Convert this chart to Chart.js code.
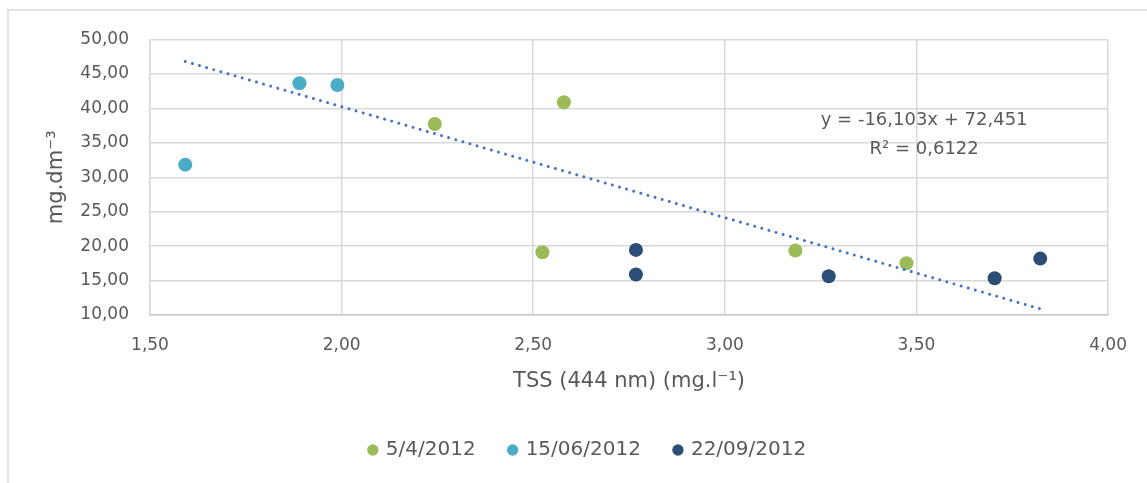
<!DOCTYPE html>
<html>
<head>
<meta charset="utf-8">
<script src="https://cdn.jsdelivr.net/npm/chart.js@4/dist/chart.umd.min.js"></script>
<style>
  html, body { margin: 0; padding: 0; background: #ffffff; overflow: hidden; }
  #wrap { width: 1147px; height: 483px; position: relative; overflow: hidden; }
  #chart { display: block; }
</style>
</head>
<body>
<div id="wrap"><canvas id="chart" width="1147" height="483"></canvas></div>
<script>
// Sampling campaigns
const campaigns = ['5/4/2012', '15/06/2012', '22/09/2012'];
const campaignColors = ['#9BBB59', '#4BACC6', '#2C4D75'];

// TSS (444 nm) in mg/l, concentration in mg/dm3, one pair of arrays per campaign
const tss_0504 = [2.243, 2.580, 2.524, 3.184, 3.474];
const conc_0504 = [37.74, 40.88, 19.11, 19.35, 17.52];

const tss_1506 = [1.592, 1.890, 1.989];
const conc_1506 = [31.83, 43.64, 43.40];

const tss_2209 = [2.768, 2.768, 3.271, 3.704, 3.823];
const conc_2209 = [19.45, 15.87, 15.63, 15.34, 18.19];

// Linear trend over all campaigns
const trendSlope = -16.103;
const trendIntercept = 72.451;
const trendR2 = 0.6122;

// Axis ticks
const xTicks = [1.5, 2.0, 2.5, 3.0, 3.5, 4.0];
const yTicks = [10, 15, 20, 25, 30, 35, 40, 45, 50];

const textColor = '#595959';
const gridColor = '#D9D9D9';
const fontFamily = '"DejaVu Sans", sans-serif';

const fmt = (v, d) => v.toFixed(d).replace('.', ',');

function pairs(xs, ys) {
  return xs.map((x, i) => ({ x: x, y: ys[i] }));
}

const allX = [].concat(tss_0504, tss_1506, tss_2209);
const xLo = Math.min.apply(null, allX);
const xHi = Math.max.apply(null, allX);
const trendPoints = [xLo, xHi].map(x => ({ x: x, y: trendSlope * x + trendIntercept }));

const seriesX = [tss_0504, tss_1506, tss_2209];
const seriesY = [conc_0504, conc_1506, conc_2209];

const scatterSets = campaigns.map((name, i) => ({
  type: 'scatter',
  label: name,
  data: pairs(seriesX[i], seriesY[i]),
  backgroundColor: campaignColors[i],
  borderColor: campaignColors[i],
  borderWidth: 0,
  pointRadius: 7,
  pointHoverRadius: 7,
  pointStyle: 'circle',
  order: 1
}));

const trendSet = {
  type: 'line',
  label: 'trend',
  data: trendPoints,
  borderColor: '#4472C4',
  borderWidth: 3,
  borderCapStyle: 'round',
  borderDash: [0.01, 7.4],
  pointRadius: 0,
  fill: false,
  tension: 0,
  order: 0
};

// Light frame along the top and left edge of the chart
const framePlugin = {
  id: 'frame',
  beforeDraw(chart) {
    const ctx = chart.ctx;
    ctx.save();
    ctx.strokeStyle = gridColor;
    ctx.lineWidth = 1.5;
    ctx.beginPath();
    ctx.moveTo(8, 483);
    ctx.lineTo(8, 10);
    ctx.lineTo(1147, 10);
    ctx.stroke();
    ctx.restore();
  }
};

// Trend equation and R² placed in the plot
const equationPlugin = {
  id: 'equation',
  afterDatasetsDraw(chart) {
    const ctx = chart.ctx;
    const xs = chart.scales.x, ys = chart.scales.y;
    const cx = xs.getPixelForValue(3.52);
    const y1 = ys.getPixelForValue(38.3);
    const y2 = ys.getPixelForValue(34.1);
    ctx.save();
    ctx.fillStyle = textColor;
    ctx.font = '18px ' + fontFamily;
    ctx.textAlign = 'center';
    ctx.textBaseline = 'middle';
    const sign = trendIntercept >= 0 ? ' + ' : ' - ';
    ctx.fillText('y = ' + fmt(trendSlope, 3) + 'x' + sign + fmt(Math.abs(trendIntercept), 3), cx, y1);
    ctx.fillText('R² = ' + fmt(trendR2, 4), cx, y2);
    ctx.restore();
  }
};

new Chart(document.getElementById('chart'), {
  data: { datasets: scatterSets.concat([trendSet]) },
  options: {
    responsive: false,
    animation: false,
    devicePixelRatio: 1,
    layout: { padding: { left: 64, right: 35, top: 39.5, bottom: 13 } },
    plugins: {
      tooltip: { enabled: false },
      legend: {
        position: 'bottom',
        labels: {
          filter: item => item.text !== 'trend',
          usePointStyle: true,
          pointStyle: 'circle',
          boxWidth: 6,
          boxHeight: 8,
          padding: 34,
          color: textColor,
          font: { family: fontFamily, size: 20 }
        }
      }
    },
    scales: {
      x: {
        type: 'linear',
        min: xTicks[0],
        max: xTicks[xTicks.length - 1],
        afterBuildTicks: s => { s.ticks = xTicks.map(v => ({ value: v })); },
        afterFit: s => { s.height = 91; },
        grid: { color: gridColor, lineWidth: 1.5, drawTicks: false },
        border: { color: '#C8C8C8', width: 1.5 },
        ticks: {
          padding: 20,
          color: textColor,
          font: { family: fontFamily, size: 17 },
          callback: v => fmt(v, 2)
        },
        title: {
          display: true,
          text: 'TSS (444 nm) (mg.l⁻¹)',
          color: textColor,
          font: { family: fontFamily, size: 21 },
          padding: { top: 0, bottom: 11.7 }
        }
      },
      y: {
        type: 'linear',
        min: yTicks[0],
        max: yTicks[yTicks.length - 1],
        afterBuildTicks: s => { s.ticks = yTicks.map(v => ({ value: v })); },
        afterFit: s => { s.width = 86; },
        grid: { color: gridColor, lineWidth: 1.5, drawTicks: false },
        border: { color: gridColor, width: 1.5 },
        ticks: {
          padding: 21,
          color: textColor,
          font: { family: fontFamily, size: 17 },
          callback: v => fmt(v, 2)
        },
        title: {
          display: true,
          text: 'mg.dm⁻³',
          color: textColor,
          font: { family: fontFamily, size: 21 },
          padding: { top: -19.6, bottom: 0 }
        }
      }
    }
  },
  plugins: [framePlugin, equationPlugin]
});
</script>
</body>
</html>
